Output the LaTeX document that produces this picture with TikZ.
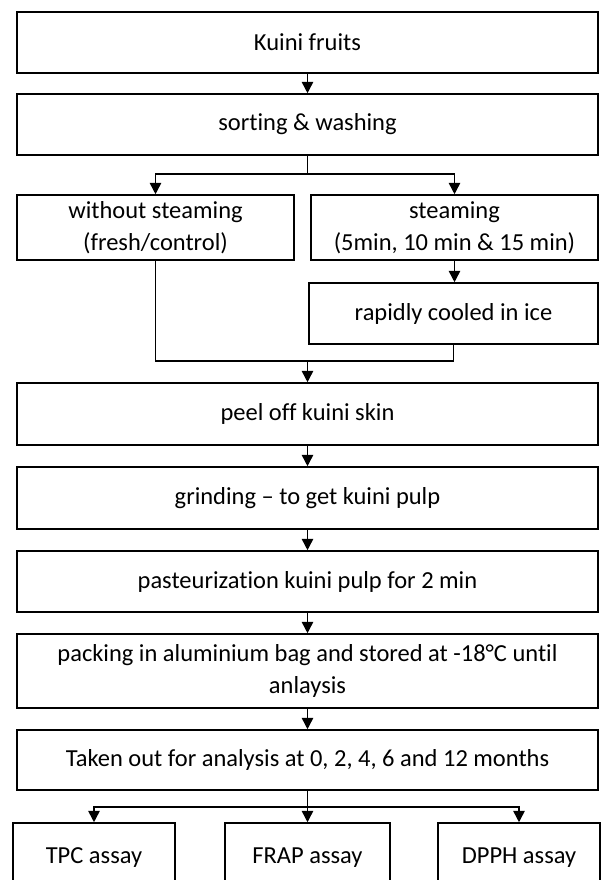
\documentclass[tikz,border=0pt]{standalone}
\usepackage{fontspec}
\setmainfont{Carlito}[Ligatures=NoCommon]
\usetikzlibrary{arrows.meta}
\begin{document}
\begin{tikzpicture}[x=0.025cm,y=-0.025cm]
% Styles
\tikzstyle{boite}=[draw,line width=1.1pt,rectangle,align=center,inner sep=0pt,font=\fontsize{17.4}{23}\selectfont]
\tikzstyle{trait}=[line width=1.1pt]
\tikzstyle{fleche}=[line width=1.1pt,-{Triangle[length=8pt,width=8pt]}]
% Cadre
\useasboundingbox (0,0) rectangle (601,880);
% Colonne principale
\node[boite,minimum width=581*0.025cm,minimum height=61*0.025cm] (fruits) at (307.5,42.5) {Kuini fruits};
\node[boite,minimum width=581*0.025cm,minimum height=61*0.025cm] (tri) at (307.5,124.5) {sorting \& washing};
% Deux branches
\node[boite,minimum width=277*0.025cm,minimum height=65*0.025cm] (sans) at (155.5,227.5) {without steaming\\(fresh/control)};
\node[boite,minimum width=287*0.025cm,minimum height=65*0.025cm] (vapeur) at (454.5,227.5) {steaming\\(5min, 10 min \& 15 min)};
\node[boite,minimum width=289*0.025cm,minimum height=61*0.025cm] (glace) at (453.5,313.5) {rapidly cooled in ice};
% Suite
\node[boite,minimum width=581*0.025cm,minimum height=62*0.025cm] (peau) at (307.5,414) {peel off kuini skin};
\node[boite,minimum width=581*0.025cm,minimum height=62*0.025cm] (broyage) at (307.5,498) {grinding -- to get kuini pulp};
\node[boite,minimum width=581*0.025cm,minimum height=61*0.025cm] (pasteur) at (307.5,581.5) {pasteurization kuini pulp for 2 min};
\node[boite,minimum width=581*0.025cm,minimum height=74*0.025cm] (stock) at (307.5,671) {packing in aluminium bag and stored at -18°C until\\anlaysis};
\node[boite,minimum width=581*0.025cm,minimum height=60*0.025cm] (analyse) at (307.5,760) {Taken out for analysis at 0, 2, 4, 6 and 12 months};
% Dosages
\node[boite,minimum width=162*0.025cm,minimum height=70*0.025cm] (tpc) at (94,858) {TPC assay};
\node[boite,minimum width=165*0.025cm,minimum height=70*0.025cm] (frap) at (307.5,858) {FRAP assay};
\node[boite,minimum width=162*0.025cm,minimum height=70*0.025cm] (dpph) at (519,858) {DPPH assay};
% Jonctions
\coordinate (j1) at (307.5,174);
\coordinate (j2) at (307.5,361);
\coordinate (j3) at (307.5,807);
% Flèches
\draw[fleche] (fruits) -- (tri);
\draw[trait] (tri) -- (j1);
\draw[fleche] (j1) -| (sans.north);
\draw[fleche] (j1) -| (vapeur.north);
\draw[fleche] (vapeur) -- (vapeur.south |- glace.north);
\draw[trait] (sans) |- (j2);
\draw[trait] (glace) |- (j2);
\draw[fleche] (j2) -- (peau);
\draw[fleche] (peau) -- (broyage);
\draw[fleche] (broyage) -- (pasteur);
\draw[fleche] (pasteur) -- (stock);
\draw[fleche] (stock) -- (analyse);
\draw[trait] (analyse) -- (j3);
\draw[fleche] (j3) -| (tpc.north);
\draw[fleche] (j3) -- (frap);
\draw[fleche] (j3) -| (dpph.north);
\end{tikzpicture}
\end{document}
